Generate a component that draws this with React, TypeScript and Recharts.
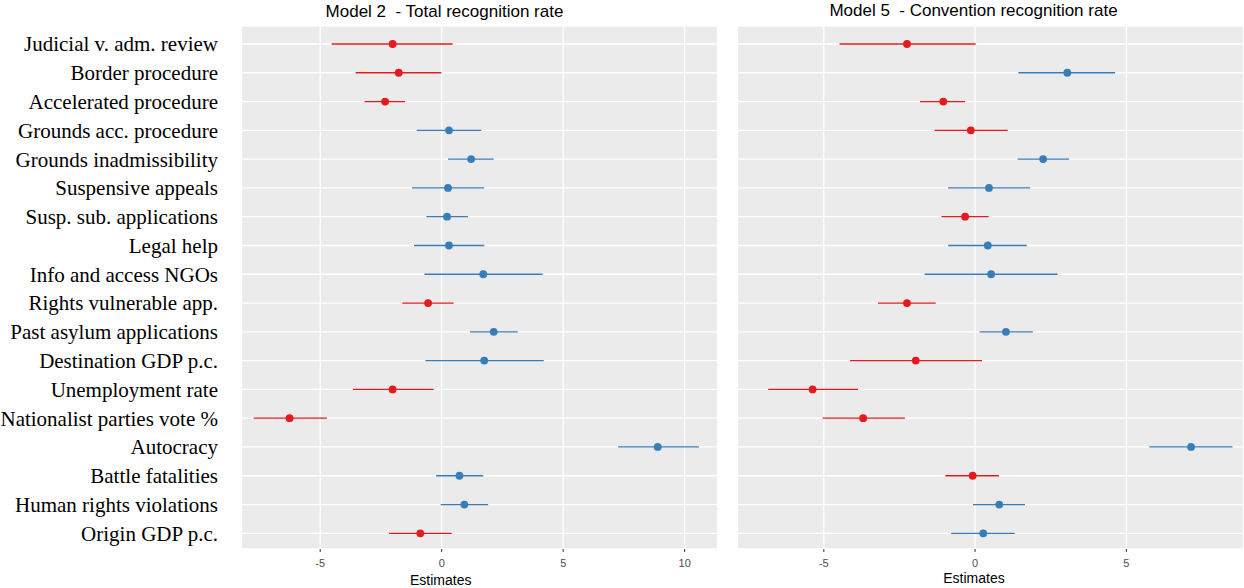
import React from 'react';
import { ComposedChart, Scatter, XAxis, YAxis, CartesianGrid, ErrorBar } from 'recharts';

const categories = [
  'Judicial v. adm. review',
  'Border procedure',
  'Accelerated procedure',
  'Grounds acc. procedure',
  'Grounds inadmissibility',
  'Suspensive appeals',
  'Susp. sub. applications',
  'Legal help',
  'Info and access NGOs',
  'Rights vulnerable app.',
  'Past asylum applications',
  'Destination GDP p.c.',
  'Unemployment rate',
  'Nationalist parties vote %',
  'Autocracy',
  'Battle fatalities',
  'Human rights violations',
  'Origin GDP p.c.',
];

const m2Est = [-2.02, -1.77, -2.33, 0.3, 1.21, 0.26, 0.22, 0.3, 1.71, -0.56, 2.14, 1.75, -2.02, -6.26, 8.89, 0.73, 0.93, -0.88];
const m2Lo = [-4.53, -3.54, -3.18, -1.03, 0.26, -1.22, -0.63, -1.14, -0.71, -1.62, 1.16, -0.67, -3.65, -7.74, 7.26, -0.23, -0.04, -2.17];
const m2Hi = [0.45, -0.02, -1.51, 1.63, 2.14, 1.75, 1.08, 1.75, 4.15, 0.49, 3.13, 4.2, -0.33, -4.73, 10.59, 1.71, 1.91, 0.41];

const m5Est = [-2.25, 3.05, -1.05, -0.14, 2.25, 0.46, -0.33, 0.42, 0.53, -2.25, 1.02, -1.96, -5.37, -3.7, 7.14, -0.08, 0.8, 0.27];
const m5Lo = [-4.48, 1.43, -1.82, -1.34, 1.41, -0.89, -1.11, -0.89, -1.67, -3.21, 0.15, -4.13, -6.84, -5.04, 5.76, -0.98, -0.07, -0.79];
const m5Hi = [0.02, 4.63, -0.33, 1.08, 3.11, 1.82, 0.45, 1.71, 2.73, -1.3, 1.91, 0.23, -3.87, -2.32, 8.51, 0.79, 1.65, 1.31];

const m2Domain: [number, number] = [-8.26, 11.37];
const m5Domain: [number, number] = [-7.87, 8.89];
const m2MajorTicks = [-5, 0, 5, 10];
const m5MajorTicks = [-5, 0, 5];
const minorTicks = [-7.5, -2.5, 2.5, 7.5];
const zeroTick = [0];
const rowTicks = categories.map((_, i) => i + 1);

const RED = '#E41A1C';
const BLUE = '#377EB8';
const PANEL = '#EBEBEB';

function buildRows(est: number[], lo: number[], hi: number[]) {
  return categories.map((name, i) => ({
    name,
    row: i + 1,
    est: est[i],
    err: [est[i] - lo[i], hi[i] - est[i]],
  }));
}

const dot = (color: string) => (props: any) => (
  <circle cx={props.cx} cy={props.cy} r={3.9} fill={color} />
);

function Panel({
  est, lo, hi, domain, majorTicks, width, showY, marginRight,
}: {
  est: number[]; lo: number[]; hi: number[]; domain: [number, number]; majorTicks: number[];
  width: number; showY: boolean; marginRight: number;
}) {
  const rows = buildRows(est, lo, hi);
  const neg = rows.filter((r) => r.est < 0);
  const pos = rows.filter((r) => r.est >= 0);
  return (
    <ComposedChart
      width={width}
      height={588}
      margin={{ top: 26, right: marginRight, bottom: 0, left: 0 }}
    >
      <CartesianGrid fill={PANEL} stroke="#FFFFFF" strokeWidth={1.3} vertical={true} horizontal={true} />
      <CartesianGrid xAxisId="minor" stroke="#FFFFFF" strokeWidth={0.7} horizontal={false} vertical={true} />
      <CartesianGrid xAxisId="zero" stroke="#FFFFFF" strokeWidth={2.2} horizontal={false} vertical={true} />
      <XAxis
        type="number"
        dataKey="est"
        domain={domain}
        allowDataOverflow
        ticks={majorTicks}
        interval={0}
        height={39}
        axisLine={false}
        tickLine={{ stroke: '#333333', strokeWidth: 1 }}
        tickSize={3}
        tickMargin={7}
        tick={{ fill: '#4D4D4D', fontSize: 11, fontFamily: 'Liberation Sans, Arial, sans-serif' }}
      />
      <XAxis xAxisId="minor" type="number" domain={domain} allowDataOverflow ticks={minorTicks} interval={0} hide />
      <XAxis xAxisId="zero" type="number" domain={domain} allowDataOverflow ticks={zeroTick} interval={0} hide />
      <YAxis
        type="number"
        dataKey="row"
        domain={[0.375, 18.545]}
        allowDataOverflow
        reversed
        ticks={rowTicks}
        interval={0}
        hide={!showY}
        width={241}
        axisLine={false}
        tickLine={false}
        tickSize={0}
        tickMargin={23}
        tickFormatter={(v: number) => categories[v - 1] ?? ''}
        tick={{ fill: '#000000', fontSize: 21, fontFamily: 'Liberation Serif, Times New Roman, serif' }}
      />
      <Scatter data={neg} fill={RED} isAnimationActive={false} shape={dot(RED)}>
        <ErrorBar dataKey="err" direction="x" width={0} stroke={RED} strokeWidth={1.3} />
      </Scatter>
      <Scatter data={pos} fill={BLUE} isAnimationActive={false} shape={dot(BLUE)}>
        <ErrorBar dataKey="err" direction="x" width={0} stroke={BLUE} strokeWidth={1.3} />
      </Scatter>
    </ComposedChart>
  );
}

export default function App() {
  const sans = 'Liberation Sans, Arial, sans-serif';
  return (
    <div style={{ position: 'absolute', left: 0, top: 0, width: 1244, height: 588, background: '#FFFFFF', overflow: 'hidden' }}>
      <div style={{ position: 'absolute', left: 0, top: 0 }}>
        <Panel est={m2Est} lo={m2Lo} hi={m2Hi} domain={m2Domain} majorTicks={m2MajorTicks} width={730} showY={true} marginRight={12} />
      </div>
      <div style={{ position: 'absolute', left: 737, top: 0 }}>
        <Panel est={m5Est} lo={m5Lo} hi={m5Hi} domain={m5Domain} majorTicks={m5MajorTicks} width={507} showY={false} marginRight={0} />
      </div>
      <svg width={1244} height={588} style={{ position: 'absolute', left: 0, top: 0, pointerEvents: 'none' }}>
        <text x={444.5} y={17.3} textAnchor="middle" fontFamily={sans} fontSize={17} fill="#000000">
          {'Model 2\u00A0 - Total recognition rate'}
        </text>
        <text x={973.5} y={16} textAnchor="middle" fontFamily={sans} fontSize={17} fill="#000000">
          {'Model 5\u00A0 - Convention recognition rate'}
        </text>
        <text x={440.7} y={585} textAnchor="middle" fontFamily={sans} fontSize={14} fill="#000000">
          Estimates
        </text>
        <text x={974} y={583} textAnchor="middle" fontFamily={sans} fontSize={14} fill="#000000">
          Estimates
        </text>
      </svg>
    </div>
  );
}
